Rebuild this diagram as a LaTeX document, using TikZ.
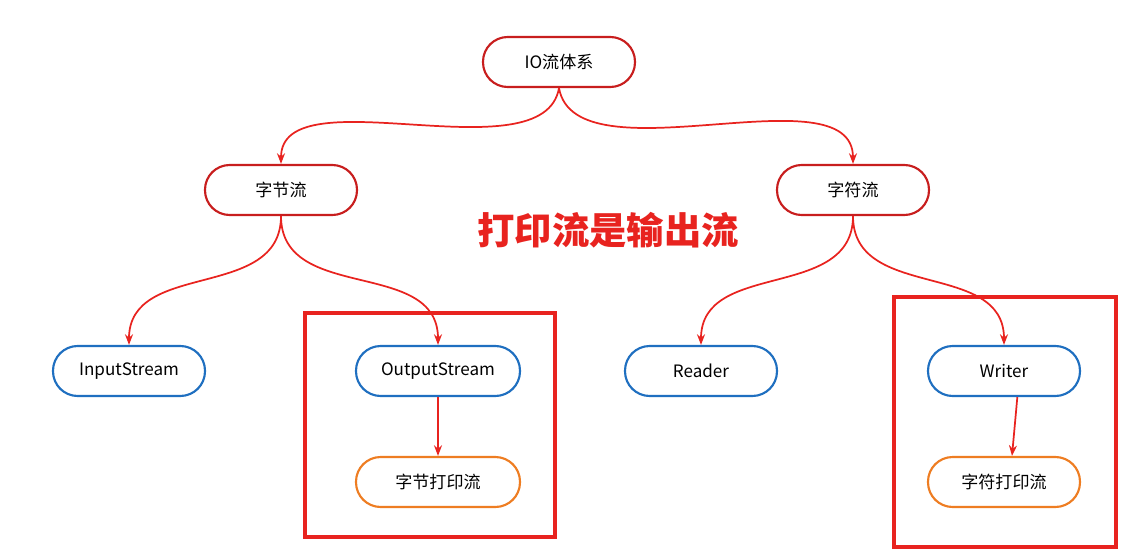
\documentclass[tikz,border=0pt]{standalone}
\usepackage{fontspec}
\setmainfont{Noto Sans CJK SC}
\usetikzlibrary{arrows.meta}
\definecolor{dred}{HTML}{C81E1E}
\definecolor{bblue}{HTML}{1F6FC0}
\definecolor{oorange}{HTML}{EE7D22}
\definecolor{rred}{HTML}{E8231F}
\begin{document}
\begin{tikzpicture}[x=0.75pt,y=0.75pt,
  pill/.style={draw, line width=1.6pt, rounded corners=18.5pt, fill=white, minimum width=114pt, minimum height=37.5pt, inner sep=0pt, font=\fontsize{12.8}{14}\selectfont},
  rpill/.style={pill, draw=dred},
  bpill/.style={pill, draw=bblue},
  opill/.style={pill, draw=oorange},
  conn/.style={draw=rred, line width=1.3pt, -{Stealth[length=8pt,width=6pt]}},
  box/.style={draw=rred, line width=2.4pt}]
\useasboundingbox (0,0) rectangle (1131,558);
\node[rpill] (io) at (559,496) {IO流体系};
\node[rpill] (zj) at (281,368) {字节流};
\node[rpill] (zf) at (853,368) {字符流};
\node[bpill] (in) at (129,187) {InputStream};
\node[bpill, minimum width=123pt] (out) at (438,187) {OutputStream};
\node[bpill] (rd) at (701,187) {Reader};
\node[bpill] (wr) at (1004,187) {Writer};
\node[opill, minimum width=123pt] (zjp) at (438,76) {字节打印流};
\node[opill] (zfp) at (1004,76) {字符打印流};
\node[text=rred, font=\fontsize{28}{31}\selectfont\bfseries] (title) at (608,328) {打印流是输出流};
\node[box, minimum width=187.5pt, minimum height=168pt, inner sep=0pt] (b1) at (430,133) {};
\node[box, minimum width=166.5pt, minimum height=187.5pt, inner sep=0pt] (b2) at (1005,136) {};
\draw[conn] (io.south) to[out=-100,in=90,looseness=0.8] (zj.north);
\draw[conn] (io.south) to[out=-80,in=90,looseness=0.8] (zf.north);
\draw[conn] (zj.south) to[out=-90,in=90,looseness=1.1] (in.north);
\draw[conn] (zj.south) to[out=-90,in=90,looseness=1.1] (out.north);
\draw[conn] (zf.south) to[out=-90,in=90,looseness=1.1] (rd.north);
\draw[conn] (zf.south) to[out=-90,in=90,looseness=1.1] (wr.north);
\draw[conn] (out.south) -- (zjp.north);
\draw[conn] ([xshift=10pt]wr.south) -- ([xshift=6pt]zfp.north);
\end{tikzpicture}
\end{document}
